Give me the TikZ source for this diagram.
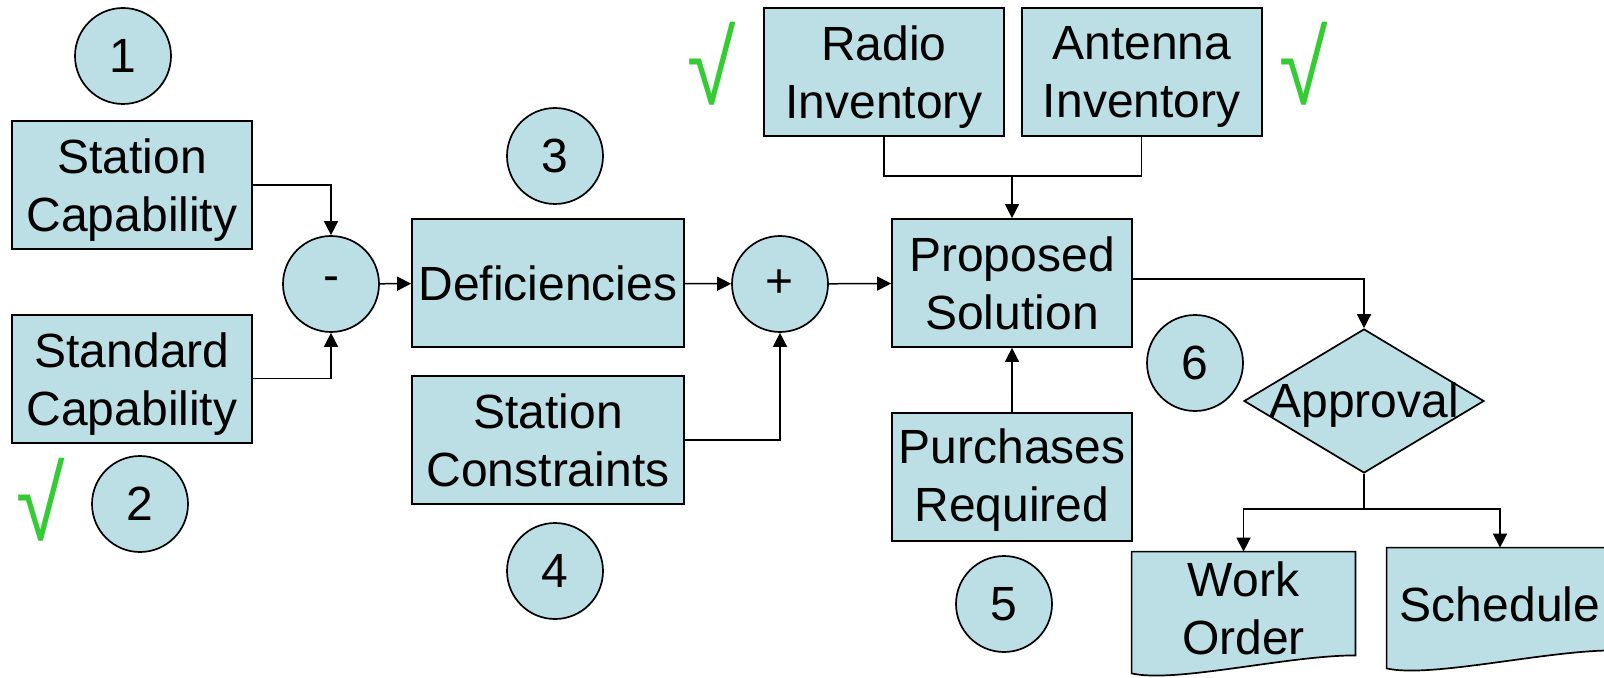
\documentclass[tikz,border=0pt]{standalone}
\usepackage{fontspec}
\setmainfont{Liberation Sans}
\usetikzlibrary{arrows.meta,positioning,shapes.geometric,backgrounds}
\definecolor{BoxBlue}{HTML}{BBDFE4}
\definecolor{TickGreen}{HTML}{33CC33}

\begin{document}
\begin{tikzpicture}[
  x=0.5pt, y=-0.5pt,
  every node/.style={font=\fontsize{24}{29}\selectfont},
  block/.style={
    draw=black,
    line width=0.85pt,
    fill=BoxBlue,
    align=center,
    minimum width=120pt,
    minimum height=64pt,
    inner sep=2pt
  },
  lowblock/.style={
    block,
    text depth=-1pt
  },
  wideblock/.style={
    block,
    minimum width=136pt
  },
  tag/.style={
    circle,
    draw=black,
    line width=0.85pt,
    fill=BoxBlue,
    minimum size=48pt,
    inner sep=0pt
  },
  decision/.style={
    diamond,
    draw=black,
    line width=0.85pt,
    fill=BoxBlue,
    minimum width=120pt,
    minimum height=72pt,
    inner sep=0pt
  },
  document/.style={align=center, minimum height=56pt, inner sep=0pt},
  docshape/.style={draw=black, line width=0.85pt, fill=BoxBlue},
  tick/.style={text=TickGreen, xscale=0.85, font=\fontsize{52}{52}\selectfont},
  link/.style={line width=0.75pt, draw=black},
  flow/.style={link, -{Triangle[length=7pt,width=7pt]}}
]
  \useasboundingbox (0,0) rectangle (1604,678);
  \clip (0,0) rectangle (1604,678);

  \node[lowblock] (stacap) at (132,185) {Station\\Capability};
  \node[lowblock, below=32pt of stacap] (stdcap) {Standard\\Capability};
  \node[tag] (minus) at (331,284) {\raisebox{-2pt}{-}};
  \node[wideblock] (defic) at (548,283) {Deficiencies};
  \node[wideblock, text depth=-2pt] (constr) at (548,440) {Station\\Constraints};
  \node[tag] (plus) at (780,284) {+};
  \node[block] (propsol) at (1012,283) {Proposed\\Solution};
  \node[lowblock] (radio) at (884,72) {Radio\\Inventory};
  \node[lowblock, right=8pt of radio] (antenna) {Antenna\\Inventory};
  \node[block, below=32pt of propsol, text depth=2pt] (purch) {Purchases\\Required};
  \node[decision, label={[yshift=-2pt]center:Approval}] (approval) at (1364,401) {};
  \node[document, minimum width=111.5pt] (workord) at (1243.5,608) {Work\\Order};
  \node[document, minimum width=113pt] (sched) at (1500,604) {Schedule};

  \node[tag] (num1) at (123,56) {1};
  \node[tag] (num2) at (140,504) {2};
  \node[tag] (num3) at (555,156) {3};
  \node[tag] (num4) at (555,571) {4};
  \node[tag] (num5) at (1004,604) {5};
  \node[tag] (num6) at (1195,363) {6};

  \node[tick] (tick1) at (41,500) {√};
  \node[tick] (tick2) at (712,64) {√};
  \node[tick] (tick3) at (1304,64) {√};

  \begin{scope}[on background layer]
    \draw[docshape] (workord.north west) -- (workord.north east)
      -- ([yshift=4.5pt]workord.south east)
      .. controls +(-34pt,0pt) and +(22pt,-5pt) .. ([yshift=-4.5pt]workord.south west)
      -- cycle;
    \draw[docshape] (sched.north west) -- (sched.north east)
      -- ([yshift=5pt]sched.south east)
      .. controls +(-34pt,0pt) and +(22pt,-5pt) .. ([yshift=-4pt]sched.south west)
      -- cycle;
  \end{scope}

  \coordinate (merge) at (1012,176);
  \coordinate (split) at (1364,509);

  \draw[flow] (stacap.east) -| (minus.north);
  \draw[flow] (stdcap.east) -| (minus.south);
  \draw[flow] (minus) -- (defic);
  \draw[flow] (defic) -- (plus);
  \draw[flow] (constr.east) -| (plus.south);
  \draw[flow] (plus) -- (propsol);
  \draw[link] (radio.south) |- (merge) -| (antenna.south);
  \draw[flow] (merge) -- (propsol.north);
  \draw[flow] (purch) -- (propsol);
  \draw[flow] ([yshift=2pt]propsol.east) -| (approval.north);
  \draw[link] (approval.south) -- (split);
  \draw[flow] (split) -| (workord.north);
  \draw[flow] (split) -| (sched.north);
\end{tikzpicture}
\end{document}
